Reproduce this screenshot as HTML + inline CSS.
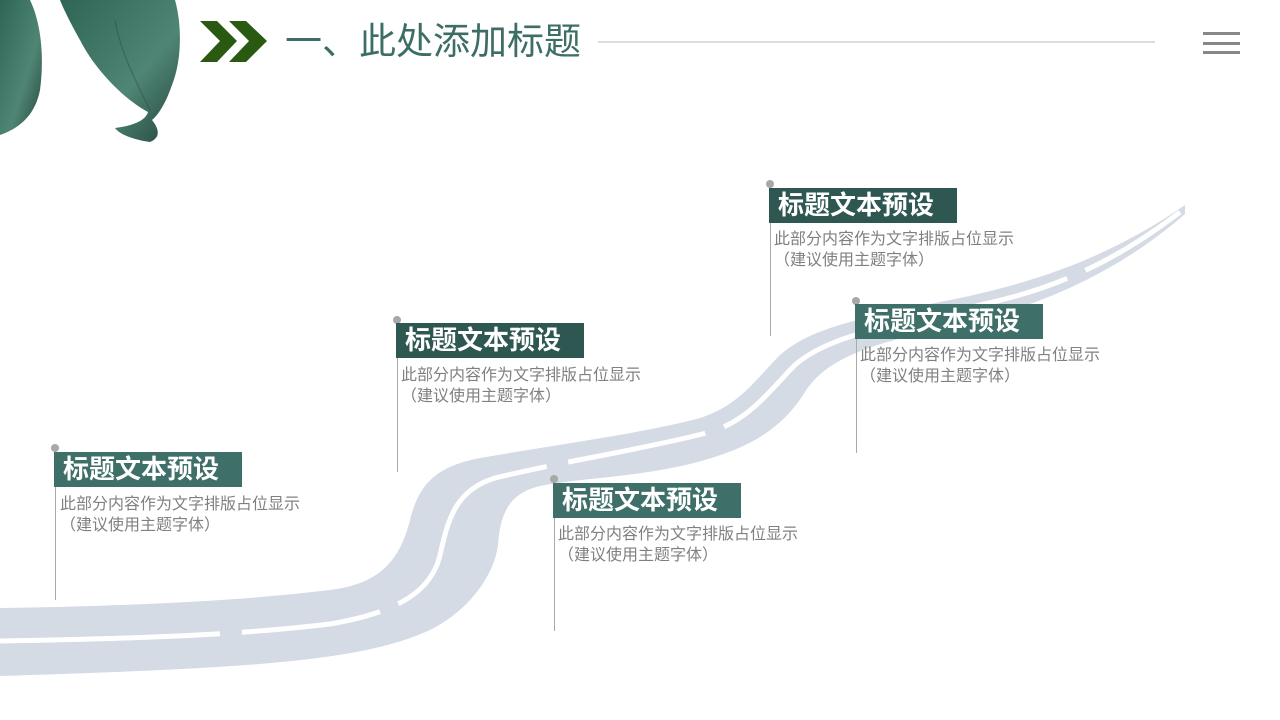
<!DOCTYPE html>
<html><head><meta charset="utf-8"><style>
body{margin:0;width:1280px;height:720px;position:relative;overflow:hidden;background:#fff;font-family:"Liberation Sans","Noto Sans CJK SC",sans-serif}
.bar{position:absolute;height:35px;width:188px;color:#fff;font-weight:bold;font-size:26px;line-height:35px;padding-left:9px;box-sizing:border-box;white-space:nowrap}
.d{position:absolute;color:#808080;font-size:16px;line-height:21px;white-space:nowrap}
.ln{position:absolute;width:1px;background:#aaa}
.dot{position:absolute;width:8px;height:8px;border-radius:50%;background:#a8a8a8}
</style></head><body>
<svg width="1280" height="720" style="position:absolute;left:0;top:0">
<defs><linearGradient id="lf" x1="0" y1="0" x2="1" y2="1"><stop offset="0" stop-color="#2f6555"/><stop offset="0.6" stop-color="#4f8574"/><stop offset="1" stop-color="#24463d"/></linearGradient></defs>
<path d="M0,0 L30,0 C42,25 44,60 40,90 C35,115 20,128 0,135 Z" fill="url(#lf)"/>
<path d="M60,0 L175,0 C182,25 182,60 172,85 C165,105 158,115 152,120 C160,130 160,138 150,142 C135,140 120,135 115,128 C130,126 145,122 148,112 C125,100 95,70 80,40 C70,22 64,10 60,0 Z" fill="url(#lf)"/>
<path d="M115,20 C120,50 135,80 150,110" stroke="#2a4a40" stroke-width="1" fill="none" opacity="0.5"/>
<path d="M0,608 C120,606 230,602 330,590 C380,584 400,560 410,520 C420,480 440,466 480,458 C560,444 650,432 700,418 C740,405 755,380 780,355 C810,328 860,318 950,300 C1050,280 1120,250 1185,205 L1185,214 C1130,262 1060,300 970,322 C890,340 830,352 805,392 C780,432 745,450 690,464 C630,478 580,478 540,486 C505,494 500,520 498,545 C494,575 470,610 430,630 C360,662 250,668 0,676 Z" fill="#d4dbe5"/>
<path d="M0,641 C120,639 230,636 330,624 C400,612 432,590 440,555 C448,520 455,490 495,478 C570,460 650,448 710,432 C750,420 770,390 795,365 C830,334 900,324 980,305 C1060,288 1120,258 1180,212" stroke="#fff" stroke-width="5" fill="none" stroke-dasharray="220 22 140 20"/>
<path d="M200,21 L217,21 L237,41 L217,62 L200,62 L220,41 Z" fill="#2a5a12"/>
<path d="M229,21 L246,21 L267,41 L246,62 L229,62 L249,41 Z" fill="#2a5a12"/>
<line x1="598" y1="42" x2="1155" y2="42" stroke="#bbb" stroke-width="1"/>
<rect x="1203" y="32" width="37" height="3" fill="#888"/><rect x="1203" y="42" width="37" height="3" fill="#888"/><rect x="1203" y="51" width="37" height="3" fill="#888"/>
</svg>
<div style="position:absolute;left:285px;top:18px;font-size:37px;color:#3d6e66;line-height:48px;white-space:nowrap">一、此处添加标题</div>

<div class="ln" style="left:55px;top:450px;height:150px"></div><div class="dot" style="left:51px;top:444px"></div>
<div class="bar" style="left:54px;top:452px;background:#3e6f68">标题文本预设</div>
<div class="d" style="left:60px;top:494px">此部分内容作为文字排版占位显示<br>（建议使用主题字体）</div>

<div class="ln" style="left:397px;top:320px;height:152px"></div><div class="dot" style="left:393px;top:316px"></div>
<div class="bar" style="left:396px;top:323px;background:#2e5751">标题文本预设</div>
<div class="d" style="left:401px;top:365px">此部分内容作为文字排版占位显示<br>（建议使用主题字体）</div>

<div class="ln" style="left:554px;top:480px;height:151px"></div><div class="dot" style="left:550px;top:475px"></div>
<div class="bar" style="left:553px;top:483px;background:#3e6f68">标题文本预设</div>
<div class="d" style="left:558px;top:524px">此部分内容作为文字排版占位显示<br>（建议使用主题字体）</div>

<div class="ln" style="left:770px;top:186px;height:150px"></div><div class="dot" style="left:766px;top:180px"></div>
<div class="bar" style="left:769px;top:188px;background:#2e5751">标题文本预设</div>
<div class="d" style="left:774px;top:229px">此部分内容作为文字排版占位显示<br>（建议使用主题字体）</div>

<div class="ln" style="left:856px;top:302px;height:151px"></div><div class="dot" style="left:852px;top:297px"></div>
<div class="bar" style="left:855px;top:304px;background:#3e6f68">标题文本预设</div>
<div class="d" style="left:860px;top:345px">此部分内容作为文字排版占位显示<br>（建议使用主题字体）</div>
</body></html>
